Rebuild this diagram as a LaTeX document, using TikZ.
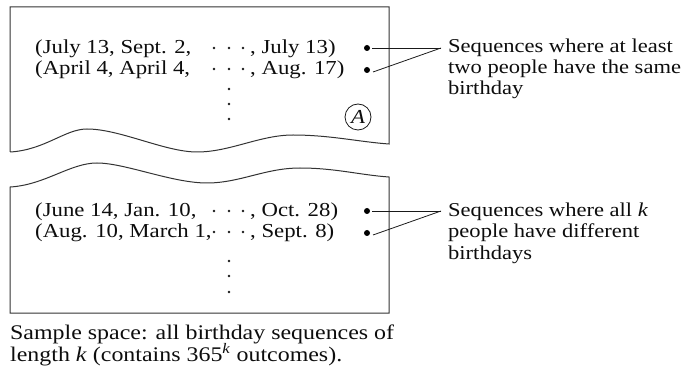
\documentclass[tikz,border=0pt]{standalone}
\usepackage{fontspec}
\setmainfont[FakeStretch=1.15]{Liberation Serif}
\begin{document}
\begin{tikzpicture}[x=1pt,y=-1pt,
  frame/.style={line width=1pt,draw=black!80},
  conn/.style={line width=0.8pt,draw=black!90},
  txt/.style={inner sep=0pt,font=\fontsize{19.8}{22}\selectfont,text=black!95},
  lbl/.style={inner sep=0pt,font=\fontsize{19.6}{21}\selectfont,text=black!95,anchor=base west},
  captxt/.style={inner sep=0pt,font=\fontsize{20.8}{22}\selectfont,text=black!95,anchor=base west},
  sdot/.style={circle,fill=black!90,inner sep=0pt,minimum size=2.7pt},
  bdot/.style={circle,fill=black,inner sep=0pt,minimum size=6pt}]
\useasboundingbox (0,0) rectangle (690,371);
% top box
\draw[frame] (10,152) -- (10,7) -- (389,7) -- (389,144)
  .. controls (360,142) and (330,135) .. (293,135)
  .. controls (260,135) and (230,152) .. (197,152)
  .. controls (165,152) and (120,129) .. (87,129)
  .. controls (65,129) and (45,150) .. (10,152);
% bottom box
\draw[frame] (10,187) -- (10,313) -- (389,313) -- (389,177)
  .. controls (360,175) and (335,168) .. (300,168)
  .. controls (265,168) and (240,183) .. (207,183)
  .. controls (172,183) and (125,163) .. (97,163)
  .. controls (70,163) and (45,185) .. (10,187);
% top rows
\node[txt,anchor=base west] (t1a) at (35,54) {(July 13, Sept. 2,};
\node[txt,anchor=base west] (t1b) at (250,54) {, July 13)};
\node[txt,anchor=base west] (t2a) at (35,75) {(April 4, April 4,};
\node[txt,anchor=base west] (t2b) at (250,75) {, Aug. 17)};
\foreach \xx in {214,229,243}{
  \node[sdot] at (\xx,48) {};
  \node[sdot] at (\xx,69) {};
}
\foreach \yy in {89,104,119}{ \node[sdot] at (229,\yy) {}; }
\node[circle,draw=black!90,line width=0.8pt,inner sep=0pt,minimum size=26pt,txt] (A) at (358,117) {\textit{A}};
% bottom rows
\node[txt,anchor=base west] (u1a) at (35,217) {(June 14, Jan. 10,};
\node[txt,anchor=base west] (u1b) at (250,217) {, Oct. 28)};
\node[txt,anchor=base west] (u2a) at (35,238) {(Aug. 10, March 1,};
\node[txt,anchor=base west] (u2b) at (250,238) {, Sept. 8)};
\foreach \xx in {214,229,243}{
  \node[sdot] at (\xx,211) {};
  \node[sdot] at (\xx,232) {};
}
\foreach \yy in {261,276,292}{ \node[sdot] at (229,\yy) {}; }
% bullets and connectors
\node[bdot] (b1) at (367,48) {};
\node[bdot] (b2) at (367,70) {};
\node[bdot] (b3) at (367,211) {};
\node[bdot] (b4) at (367,233) {};
\coordinate (ap1) at (441,48);
\coordinate (ap2) at (441,211);
\draw[conn] ([xshift=5pt]b1.center) -- (ap1);
\draw[conn] ([xshift=6pt,yshift=-2pt]b2.center) -- (ap1);
\draw[conn] ([xshift=5pt]b3.center) -- (ap2);
\draw[conn] ([xshift=6pt,yshift=-2pt]b4.center) -- (ap2);
\node[lbl] (L1a) at (448,53) {Sequences where at least};
\node[lbl] (L1b) at (448,74) {two people have the same};
\node[lbl] (L1c) at (448,95) {birthday};
\node[lbl] (L2a) at (448,217) {Sequences where all \textit{k}};
\node[lbl] (L2b) at (448,238) {people have different};
\node[lbl] (L2c) at (448,259) {birthdays};
% caption
\node[captxt] (cap1) at (10,339) {Sample space: all birthday sequences of};
\node[captxt] (cap2) at (10,361.5) {length \textit{k} (contains 365\textsuperscript{\textit{k}} outcomes).};
\end{tikzpicture}
\end{document}
